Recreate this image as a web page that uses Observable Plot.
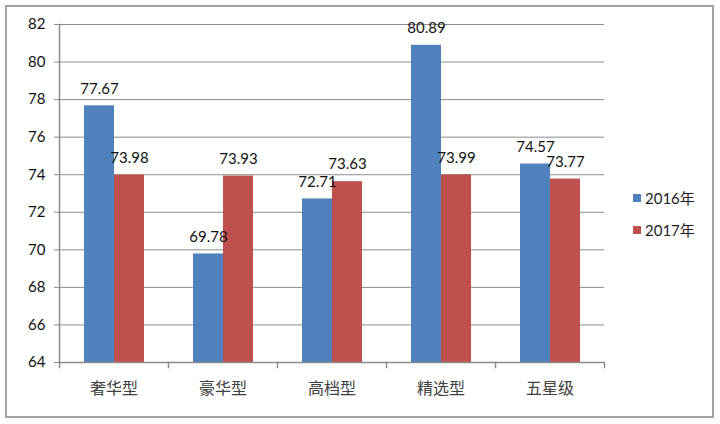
<!DOCTYPE html>
<html>
<head>
<meta charset="utf-8">
<script src="https://cdn.jsdelivr.net/npm/d3@7"></script>
<script src="https://cdn.jsdelivr.net/npm/@observablehq/plot@0.6"></script>
<style>
  html, body { margin: 0; padding: 0; background: #fff; }
  #wrap { position: relative; width: 720px; height: 424px; overflow: hidden; }
  #border { position: absolute; left: 5px; top: 5px; width: 709px; height: 413px; box-sizing: border-box; border: 2px solid #a3a3a3; pointer-events: none; }
  #chart { position: absolute; left: 0; top: 0; }
  .legend { position: absolute; left: 633px; font-family: Lato, "Noto Sans CJK SC", sans-serif; font-size: 15px; color: #222; display: flex; align-items: center; }
  .legend span.sw { display: inline-block; width: 8px; height: 8px; margin-right: 4px; }
</style>
</head>
<body>
<div id="wrap">
  <div id="chart"></div>
  <div id="legend"></div>
  <div id="border"></div>
</div>
<script>
const categories = ["奢华型", "豪华型", "高档型", "精选型", "五星级"];
const series = ["2016年", "2017年"];
const values2016 = [77.67, 69.78, 72.71, 80.89, 74.57];
const values2017 = [73.98, 73.93, 73.63, 73.99, 73.77];
const yTicks = [64, 66, 68, 70, 72, 74, 76, 78, 80, 82];
const colors = ["#4F81BD", "#C0504D"];

const data = categories.flatMap((c, i) => [
  {category: c, year: series[0], value: values2016[i]},
  {category: c, year: series[1], value: values2017[i]}
]);

const axisColor = "#8c8c8c";

const chart = Plot.plot({
  width: 720,
  height: 424,
  marginLeft: 57,
  marginRight: 115,
  marginTop: 24,
  marginBottom: 62,
  style: {fontFamily: "Lato, sans-serif", fontSize: "15px", color: "#111", background: "transparent"},
  fx: {domain: categories, padding: 0, label: null},
  x: {domain: series, paddingInner: 0, paddingOuter: 0.768, axis: null},
  y: {domain: [yTicks[0], yTicks[yTicks.length - 1]]},
  color: {domain: series, range: colors},
  marks: [
    Plot.gridY(yTicks, {stroke: axisColor, strokeOpacity: 1, strokeWidth: 1}),
    Plot.barY(data, {fx: "category", x: "year", y1: yTicks[0], y2: "value", fill: "year"}),
    Plot.text(data, {fx: "category", x: "year", y: "value", text: d => d.value.toFixed(2), dy: -17, fontSize: 15, fill: "#111"}),
    Plot.ruleY([yTicks[0]], {stroke: axisColor, strokeWidth: 1.5}),
    Plot.frame({anchor: "left", stroke: axisColor, strokeWidth: 1.5, facetAnchor: "left"}),
    Plot.frame({anchor: "left", stroke: axisColor, strokeWidth: 1.5, insetTop: 338, insetBottom: -5}),
    Plot.frame({anchor: "right", stroke: axisColor, strokeWidth: 1.5, insetTop: 338, insetBottom: -5, facetAnchor: "right"}),
    Plot.axisY(yTicks, {tickSize: 5, tickPadding: 9, stroke: axisColor, fontSize: 15, fill: "#111", label: null}),
    Plot.axisFx({anchor: "bottom", tickSize: 0, tickPadding: 20, fontFamily: "'Noto Sans CJK SC', sans-serif", fontSize: 16, fill: "#404040", label: null})
  ]
});
document.getElementById("chart").appendChild(chart);

const legend = document.getElementById("legend");
series.forEach((s, i) => {
  const el = document.createElement("div");
  el.className = "legend";
  el.style.top = (187 + i * 32) + "px";
  el.innerHTML = `<span class="sw" style="background:${colors[i]}"></span>${s}`;
  legend.appendChild(el);
});
</script>
</body>
</html>
